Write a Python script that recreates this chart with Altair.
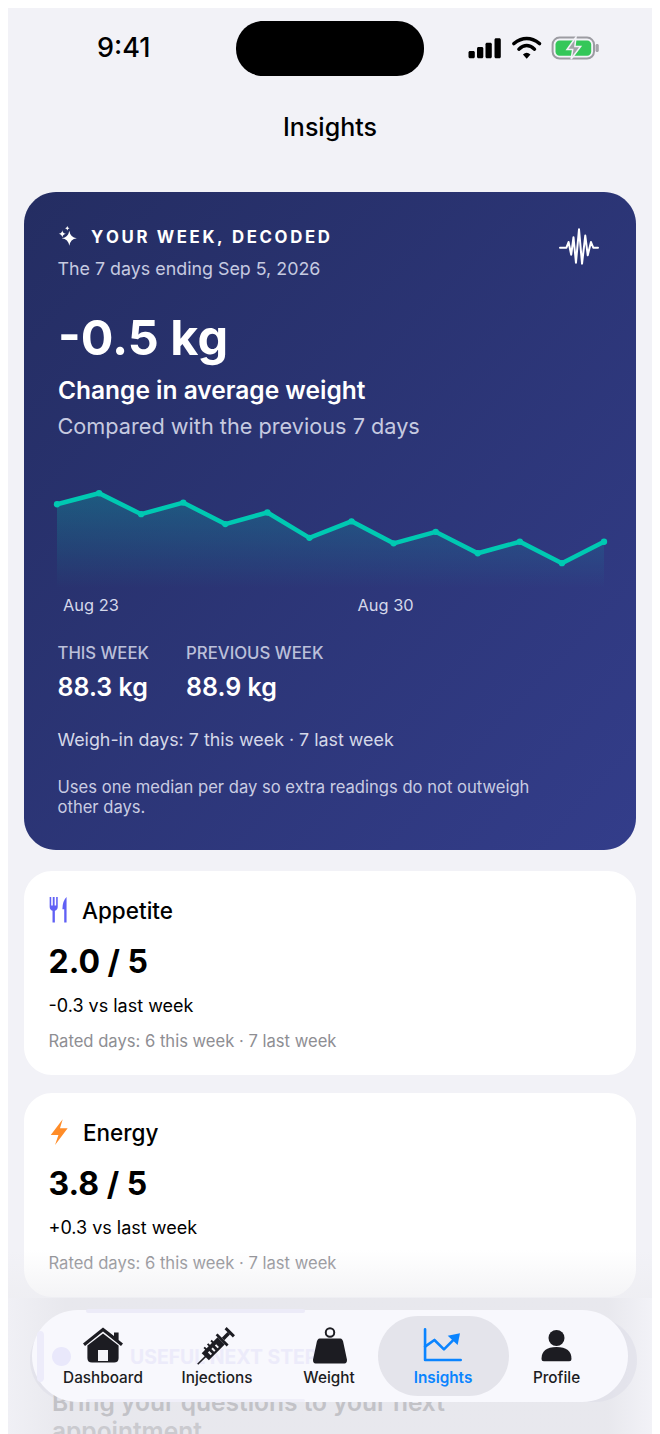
# Insights screen from the phone app, rebuilt as one layered chart.

import math

import altair as alt
import pandas as pd

FONT = "Inter"
INK = "#1C1C22"
TEAL = "#00C9B2"
MARGIN = 8  # the page's own margin, all positions below are page pixels

# chart data
days = [
    "2026-08-23", "2026-08-24", "2026-08-25", "2026-08-26", "2026-08-27", "2026-08-28", "2026-08-29",
    "2026-08-30", "2026-08-31", "2026-09-01", "2026-09-02", "2026-09-03", "2026-09-04", "2026-09-05",
]
weights = [89.05, 89.25, 88.87, 89.08, 88.69, 88.90, 88.44, 88.74, 88.34, 88.55, 88.16, 88.37, 87.98, 88.37]
tick_days = ["2026-08-23", "2026-08-30"]
tick_labels = ["Aug 23", "Aug 30"]

tabs = ["Dashboard", "Injections", "Weight", "Insights", "Profile"]
signal_tops = [51, 47, 42.7, 38.3]

base = pd.DataFrame({"i": [0]})


def rect(x0, y0, x1, y1, fill, r=0, opacity=1, **kw):
    return (
        alt.Chart(base)
        .mark_rect(fill=fill, cornerRadius=r, opacity=opacity, **kw)
        .encode(
            x=alt.value(x0 - MARGIN), x2=alt.value(x1 - MARGIN),
            y=alt.value(y0 - MARGIN), y2=alt.value(y1 - MARGIN),
        )
    )


def label(x, y, s, size, weight=400, color="#000000", align="left"):
    return (
        alt.Chart(base)
        .mark_text(font=FONT, fontSize=size, fontWeight=weight, color=color, align=align, baseline="alphabetic")
        .encode(x=alt.value(x - MARGIN), y=alt.value(y - MARGIN), text=alt.value(s))
    )


def icon(x, y, half, path, color, stroke=0, edge=None, edge_width=0):
    # custom shapes are drawn in a -1..1 box, size is that box's area
    if stroke:
        mark = alt.Chart(base).mark_point(
            shape=path, size=(2 * half) ** 2, filled=False, stroke=color, strokeWidth=stroke,
            opacity=1, strokeCap="round", strokeJoin="round",
        )
    elif edge:
        mark = alt.Chart(base).mark_point(
            shape=path, size=(2 * half) ** 2, filled=True, fill=color, stroke=edge,
            strokeWidth=edge_width, opacity=1,
        )
    else:
        mark = alt.Chart(base).mark_point(
            shape=path, size=(2 * half) ** 2, filled=True, fill=color, strokeWidth=0, opacity=1,
        )
    return mark.encode(x=alt.value(x - MARGIN), y=alt.value(y - MARGIN))


def diag(points):
    # syringe parts are written along its axis, then turned 45 degrees
    s = math.sqrt(0.5)
    return "M" + " L".join(f"{(t + w) * s:.3f},{(w - t) * s:.3f}" for t, w in points) + " Z"


def tracked(s):
    # Vega text has no letter spacing, thin spaces stand in for it
    return "\u2009".join(s)


STAR = "M0,-1 Q.13,-.13 1,0 Q.13,.13 0,1 Q-.13,.13 -1,0 Q-.13,-.13 0,-1 Z"
WAVE = (
    "M-1,0 L-.66,0 L-.55,-.3 L-.41,.37 L-.29,-.55 L-.16,.79 L0,-.97 L.16,.84 "
    "L.33,-.64 L.46,.4 L.63,-.3 L.75,0 L1,0"
)
WIFI = "M-.92,-.3 Q0,-1.02 .92,-.3 M-.56,.1 Q0,-.42 .56,.1"
WIFI_DOT = "M-.27,.48 Q0,.24 .27,.48 L0,.78 Z"
BOLT = "M.27,-.99 L-.65,.22 L-.06,.22 L-.32,.99 L.65,-.3 L.06,-.3 Z"
FORK = (
    "M-.68,-1 L-.56,-1 L-.56,-.35 L-.44,-.35 L-.44,-1 L-.3,-1 L-.3,-.35 L-.18,-.35 L-.18,-1 L-.06,-1 "
    "L-.06,-.25 Q-.06,0 -.28,.05 L-.28,.97 L-.46,.97 L-.46,.05 Q-.68,0 -.68,-.25 Z"
)
KNIFE = "M.62,-1 Q.3,-.7 .3,-.05 L.44,-.05 L.44,.97 L.62,.97 Z"
ROOF = "M0,-.88 L.55,-.45 L.55,-.63 L.78,-.63 L.78,-.25 L1,-.08 L.9,.05 L0,-.67 L-.9,.05 L-1,-.08 Z"
HOUSE = "M0,-.58 L.78,.02 L.78,.65 Q.78,.88 .55,.88 L-.55,.88 Q-.78,.88 -.78,.65 L-.78,.02 Z"
DOOR = "M-.25,.25 L.25,.25 L.25,.8 L-.25,.8 Z"
KETTLE = (
    "M-.6,-.7 L.6,-.7 Q.75,-.7 .8,-.4 L1,.55 Q1,.77 .85,.77 L-.85,.77 Q-1,.77 -1,.55 "
    "L-.8,-.4 Q-.75,-.7 -.6,-.7 Z"
)
SHOULDERS = "M-1,.3 Q-1,-.5 0,-.5 Q1,-.5 1,.3 Q1,.45 .85,.45 L-.85,.45 Q-1,.45 -1,.3 Z"
TREND_AXIS = "M-.98,-.87 L-.98,.83 L1,.83"
TREND_LINE = "M-.98,.09 L-.46,-.28 L.07,.24 L.68,-.37"
TREND_HEAD = "M.96,-.65 L.28,-.52 L.83,0 Z"
BATTERY_BOLT = "M.2,-1 L-.62,.14 L-.1,.14 L-.24,1 L.62,-.14 L.1,-.14 Z"

layers = []

# status bar
layers += [
    label(97, 57, "9:41", 27, 500),
    rect(236, 21, 424, 76, "#000000", 27),
    label(330, 136, "Insights", 25, 500, "#000000", "center"),
]
for left, top in zip([468.5, 477, 485.5, 494.5], signal_tops):
    layers.append(rect(left, top, left + 6.3, 58.3, "#000000", 1.5))
layers += [
    icon(526.7, 47.8, 14, WIFI, "#000000", 3.4),
    icon(526.7, 47.8, 14, WIFI_DOT, "#000000"),
    rect(552.6, 37.6, 594, 58.6, "#F2F2F7", 7, stroke="#9C9CA2", strokeWidth=2),
    rect(555.5, 40.4, 591.2, 55.8, "#34C759", 4),
    rect(595.5, 44, 598.8, 52, "#A5A5AA", 1.5),
    icon(573.8, 48, 11, BATTERY_BOLT, "#A3A3A8", edge="#F2F2F7", edge_width=1.5),
]

# summary card
card_fill = alt.LinearGradient(
    gradient="linear",
    stops=[alt.GradientStop(color="#242D62", offset=0), alt.GradientStop(color="#333D8A", offset=1)],
    x1=0, y1=0, x2=1, y2=1,
)
layers += [
    rect(24, 192, 636, 850, card_fill, 32),
    icon(69.3, 238.3, 7.5, STAR, "#FFFFFF"),
    icon(62.3, 233.8, 3.6, STAR, "#FFFFFF"),
    icon(67.3, 228.3, 2.2, STAR, "#FFFFFF"),
    label(91, 243, tracked("YOUR WEEK, DECODED"), 16.8, 700, "#FFFFFF"),
    label(57.5, 275, "The 7 days ending Sep 5, 2026", 17.85, 400, "#C6CAE0"),
    icon(579, 247.7, 19, WAVE, "#FFFFFF", 2),
    label(58, 355, "-0.5 kg", 48.5, 700, "#FFFFFF"),
    label(58, 399, "Change in average weight", 24.5, 600, "#FFFFFF"),
    label(57.5, 434, "Compared with the previous 7 days", 21.7, 400, "#C6CAE0"),
    label(57.5, 659, "THIS WEEK", 16.7, 500, "#BCC0DA"),
    label(186, 659, "PREVIOUS WEEK", 16.8, 500, "#BCC0DA"),
    label(57.5, 696, "88.3 kg", 25, 600, "#FFFFFF"),
    label(186, 696, "88.9 kg", 25, 600, "#FFFFFF"),
    label(57.5, 746, "Weigh-in days: 7 this week · 7 last week", 17.85, 400, "#D5D8E8"),
    label(57.5, 793, "Uses one median per day so extra readings do not outweigh", 16.6, 400, "#C9CCE2"),
    label(57.5, 813, "other days.", 16.6, 400, "#C9CCE2"),
]

# weight line
trend = pd.DataFrame({"day": days, "weight": weights})
x_day = alt.X(
    "day:T",
    axis=None,
    scale=alt.Scale(domain=[days[0], days[-1]], range=[57 - MARGIN, 604 - MARGIN]),
)
y_weight = alt.Y(
    "weight:Q",
    axis=None,
    scale=alt.Scale(domain=[87.53, 89.49], range=[588 - MARGIN, 480 - MARGIN]),
)
area_fill = alt.LinearGradient(
    gradient="linear",
    stops=[
        alt.GradientStop(color="rgba(0,201,178,0.27)", offset=0),
        alt.GradientStop(color="rgba(0,201,178,0)", offset=1),
    ],
    x1=0, y1=0, x2=0, y2=1,
)
ticks = pd.DataFrame({"day": tick_days, "name": tick_labels})
layers += [
    alt.Chart(trend).mark_area(fill=area_fill).encode(x=x_day, y=y_weight, y2=alt.datum(87.53)),
    alt.Chart(trend).mark_line(color=TEAL, strokeWidth=4.5).encode(x=x_day, y=y_weight),
    alt.Chart(trend).mark_point(filled=True, color=TEAL, size=40, opacity=1).encode(x=x_day, y=y_weight),
    alt.Chart(ticks)
    .mark_text(font=FONT, fontSize=16.4, color="#D5D8EA", align="left", baseline="alphabetic", dx=6)
    .encode(x=x_day, y=alt.value(611 - MARGIN), text="name:N"),
]

# rating cards
layers += [
    rect(24, 871, 636, 1075, "#FFFFFF", 28),
    icon(58.5, 910, 13, FORK, "#6060F5"),
    icon(58.5, 910, 13, KNIFE, "#6060F5"),
    label(82, 919, "Appetite", 22.5, 500),
    label(48.5, 972.5, "2.0 / 5", 32, 700),
    label(48.5, 1012, "-0.3 vs last week", 18, 400),
    label(48.5, 1047, "Rated days: 6 this week · 7 last week", 16.6, 400, "#8E8E93"),
    rect(24, 1093, 636, 1297, "#FFFFFF", 28),
    icon(59.2, 1132.2, 13, BOLT, "#FF8C28"),
    label(83, 1141, "Energy", 22.5, 500),
    label(48.5, 1195, "3.8 / 5", 32, 700),
    label(48.5, 1234, "+0.3 vs last week", 18, 400),
    label(48.5, 1269, "Rated days: 6 this week · 7 last week", 16.6, 400, "#8E8E93"),
]

# fade and shadow under the tab bar
fade = alt.LinearGradient(
    gradient="linear",
    stops=[
        alt.GradientStop(color="rgba(236,236,240,0)", offset=0),
        alt.GradientStop(color="rgba(236,236,240,0.6)", offset=1),
    ],
    x1=0, y1=0, x2=0, y2=1,
)
shade = alt.LinearGradient(
    gradient="linear",
    stops=[
        alt.GradientStop(color="rgba(222,222,228,0.1)", offset=0),
        alt.GradientStop(color="rgba(222,222,228,0.5)", offset=0.09),
        alt.GradientStop(color="rgba(222,222,228,0.5)", offset=0.93),
        alt.GradientStop(color="rgba(222,222,228,0)", offset=1),
    ],
    x1=0, y1=0, x2=1, y2=0,
)
layers.append(rect(8, 1250, 652, 1298, fade))
layers.append(rect(8, 1298, 652, 1434, shade))
layers.append(rect(30, 1318, 637, 1402, "#DEDEE8", 42, 0.6))

# scrolled content behind the tab bar
layers += [
    label(52, 1411, "Bring your questions to your next", 24.5, 600, "#C2C2C7"),
    label(52, 1440, "appointment", 24.5, 600, "#CACACF"),
]

# tab bar
layers += [
    rect(32, 1310, 628, 1402, "#F8F8FD", 46),
    rect(86, 1309, 305, 1313, "#ECEBF8", 2),
    rect(86, 1399, 305, 1402, "#F0EFF9", 1.5),
    rect(37, 1331, 44, 1382, "#EDECFA", 3.5),
    rect(52, 1347, 71, 1366, "#E9E8FB", 9.5),
    label(130, 1364, "USEFUL NEXT STEP", 19.4, 700, "#ECEBFA"),
    rect(378, 1316, 509, 1396, "#E4E4EB", 40),
    icon(103, 1345, 20, ROOF, INK),
    icon(103, 1345, 20, HOUSE, INK),
    icon(103, 1345, 20, DOOR, "#F4F4F8"),
    icon(217, 1345, 19.5, diag([(-1.4, -.04), (-.75, -.04), (-.75, .04), (-1.4, .04)]), INK),
    icon(217, 1345, 19.5, diag([(-.85, -.26), (.3, -.26), (.3, .26), (-.85, .26)]), INK),
    icon(217, 1345, 19.5, diag([(.3, -.4), (.44, -.4), (.44, .4), (.3, .4)]), INK),
    icon(217, 1345, 19.5, diag([(.44, -.09), (.85, -.09), (.85, .09), (.44, .09)]), INK),
    icon(217, 1345, 19.5, diag([(.85, -.3), (1, -.3), (1, .3), (.85, .3)]), INK),
    icon(217, 1345, 19.5, diag([(-.6, -.38), (-.5, -.38), (-.5, .02), (-.6, .02)]), INK),
    icon(217, 1345, 19.5, diag([(-.35, -.38), (-.25, -.38), (-.25, .02), (-.35, .02)]), INK),
    icon(217, 1345, 19.5, diag([(-.1, -.38), (0, -.38), (0, .02), (-.1, .02)]), INK),
    icon(217, 1345, 19.5, diag([(-.6, -.06), (-.5, -.06), (-.5, .14), (-.6, .14)]), "#F4F4F8"),
    icon(217, 1345, 19.5, diag([(-.35, -.06), (-.25, -.06), (-.25, .14), (-.35, .14)]), "#F4F4F8"),
    icon(217, 1345, 19.5, diag([(-.1, -.06), (0, -.06), (0, .14), (-.1, .14)]), "#F4F4F8"),
    icon(330, 1350.5, 17, KETTLE, INK),
    alt.Chart(base)
    .mark_point(shape="circle", size=72, filled=False, stroke=INK, strokeWidth=2, opacity=1)
    .encode(x=alt.value(330 - MARGIN), y=alt.value(1332.5 - MARGIN)),
    icon(442.7, 1345, 18, TREND_AXIS, "#0A84FF", 2.6),
    icon(442.7, 1345, 18, TREND_LINE, "#0A84FF", 2.6),
    icon(442.7, 1345, 18, TREND_HEAD, "#0A84FF"),
    alt.Chart(base)
    .mark_point(shape="circle", size=256, filled=True, fill=INK, strokeWidth=0, opacity=1)
    .encode(x=alt.value(556.5 - MARGIN), y=alt.value(1338 - MARGIN)),
    icon(556.5, 1354.5, 15, SHOULDERS, INK),
]
for centre, name in zip([103, 217, 329, 443, 556.5], tabs):
    is_on = name == "Insights"
    layers.append(
        label(centre, 1383, name, 15.3, 600 if is_on else 500, "#0A84FF" if is_on else INK, "center")
    )

chart = (
    alt.layer(*layers)
    .properties(
        width=644,
        height=1426,
        padding=0,
        background="#F2F2F7",
        autosize=alt.AutoSizeParams(type="none"),
    )
    .configure_view(stroke=None)
)

chart.save("out.html", embed_options={"renderer": "svg", "actions": False})
